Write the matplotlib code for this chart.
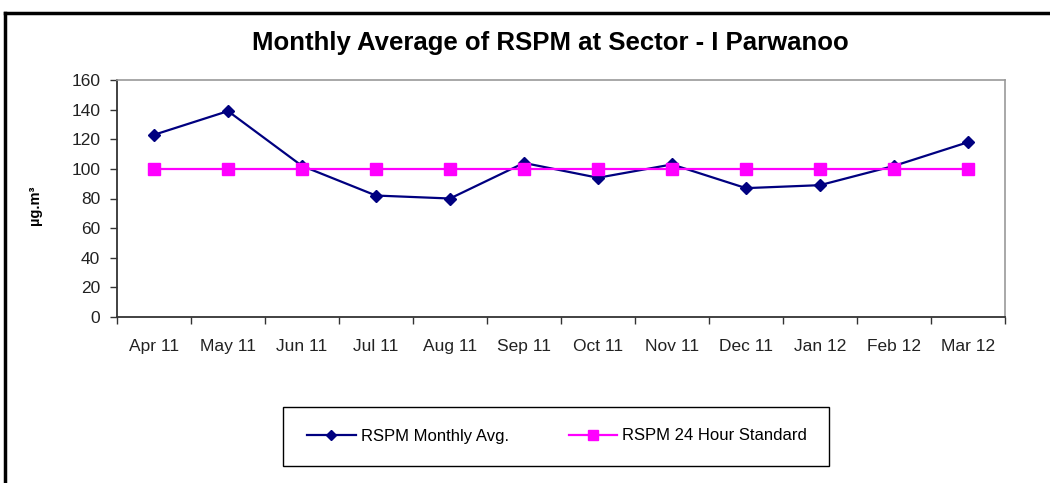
import matplotlib
matplotlib.use("Agg")
import matplotlib.pyplot as plt
from matplotlib.patches import Rectangle
from matplotlib.lines import Line2D
import numpy as np

months = ["Apr 11", "May 11", "Jun 11", "Jul 11", "Aug 11", "Sep 11",
          "Oct 11", "Nov 11", "Dec 11", "Jan 12", "Feb 12", "Mar 12"]
rspm_avg = [123, 139, 102, 82, 80, 104, 94, 103, 87, 89, 102, 118]
rspm_std = [100, 100, 100, 100, 100, 100, 100, 100, 100, 100, 100, 100]
yticks = [0, 20, 40, 60, 80, 100, 120, 140, 160]

plt.rcParams['font.family'] = ['Liberation Sans', 'DejaVu Sans']

fig = plt.figure(figsize=(10.5, 4.83), dpi=100)
ax = fig.add_axes([117/1050, 1 - 317/483, 888/1050, 237/483])

x = np.arange(len(months))
ax.plot(x, rspm_avg, color='#000080', lw=1.6, marker='D', ms=6.5,
        label='RSPM Monthly Avg.')
ax.plot(x, rspm_std, color='#FF00FF', lw=1.6, marker='s', ms=9,
        label='RSPM 24 Hour Standard')

ax.set_xlim(-0.5, len(months) - 0.5)
ax.set_ylim(0, 160)
ax.set_yticks(yticks)
ax.set_yticklabels([str(v) for v in yticks], fontsize=12.5, color='#222222')
ax.set_xticks(x)
ax.set_xticklabels(months, fontsize=12.5, color='#222222')
ax.set_xticks(np.arange(-0.5, len(months)), minor=True)
ax.tick_params(axis='x', which='major', length=0, pad=16)
ax.tick_params(axis='x', which='minor', length=5, width=1, color='#333333', direction='out')
ax.tick_params(axis='y', length=5, width=1, color='#333333', direction='out', pad=7)

for s in ['left', 'bottom']:
    ax.spines[s].set_color('#333333')
    ax.spines[s].set_linewidth(1.3)
for s in ['top', 'right']:
    ax.spines[s].set_color('#999999')
    ax.spines[s].set_linewidth(1.2)

fig.text(35/1050, 1 - 205/483, 'µg.m³', rotation=90, ha='center', va='center',
         fontsize=10.5, fontweight='bold')

fig.text(550/1050, 1 - 43/483, 'Monthly Average of RSPM at Sector - I Parwanoo',
         ha='center', va='center', fontsize=18.5, fontweight='bold')

# outer border
fig.add_artist(Line2D([5/1050, 1.0], [1 - 13/483, 1 - 13/483], color='black', lw=2.5))
fig.add_artist(Line2D([5/1050, 5/1050], [0, 1 - 13/483], color='black', lw=2.5))

# legend box
fig.add_artist(Rectangle((283/1050, 1 - 466/483), 546/1050, 59/483,
                         transform=fig.transFigure, fill=False,
                         edgecolor='black', lw=1.0))
leg = fig.legend(loc='center', bbox_to_anchor=(557/1050, 1 - 436/483),
                 ncol=2, frameon=False, fontsize=12, handlelength=2.9,
                 handletextpad=0.3, columnspacing=3.6, markerscale=0.8)

fig.savefig('out.png', dpi=100)
